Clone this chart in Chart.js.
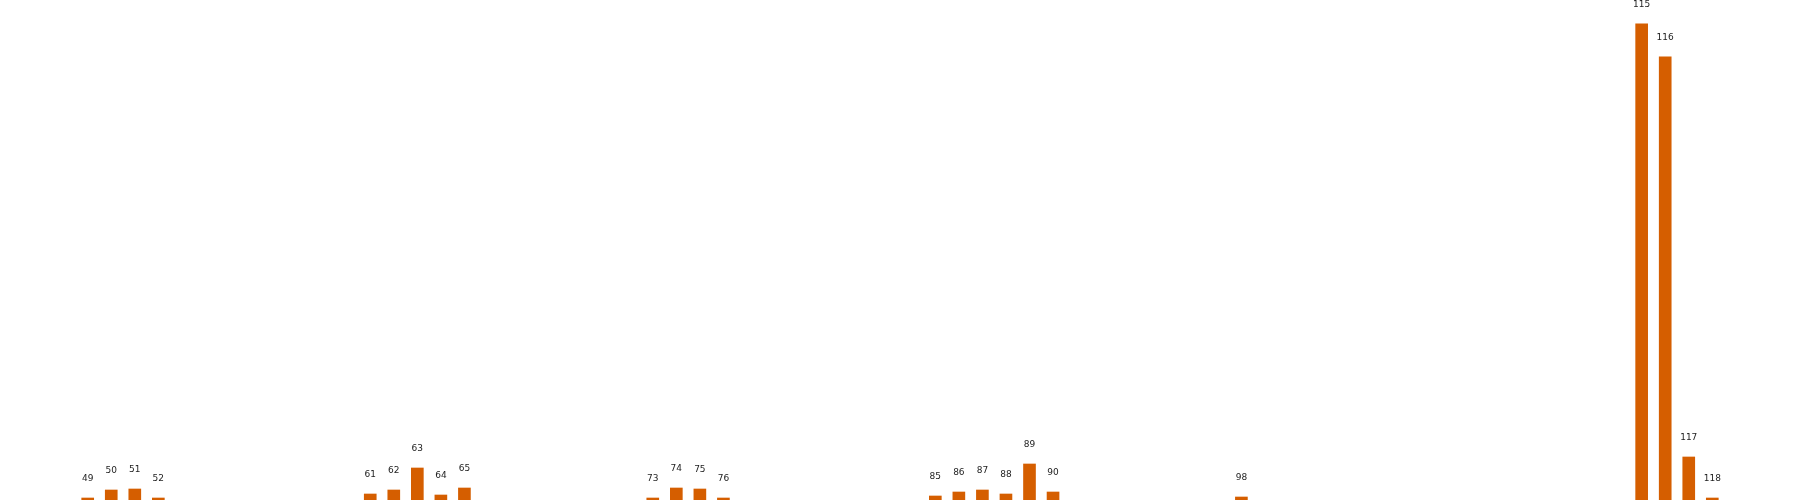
<!DOCTYPE html>
<html>
<head>
<meta charset="utf-8">
<script src="https://cdn.jsdelivr.net/npm/chart.js@4/dist/chart.umd.min.js"></script>
<style>
    html, body { margin: 0; padding: 0; background: #fff; }
    #wrap { width: 1800px; height: 500px; position: relative; }
</style>
</head>
<body>
<div id="wrap"><canvas id="chart"></canvas></div>
<script>
// bar positions (category numbers) and heights
var categories = [49, 50, 51, 52, 61, 62, 63, 64, 65, 73, 74, 75, 76, 85, 86, 87, 88, 89, 90, 98, 115, 116, 117, 118];
var values = [2, 10, 11, 2, 6, 10, 32, 5, 12, 2, 12, 11, 2, 4, 8, 10, 6, 36, 8, 3, 476, 443, 43, 2];

var barColor = '#d55e00';

var points = [];
for (var i = 0; i < categories.length; i++) {
    points.push({ x: categories[i], y: values[i] });
}

// 0.5 wide bars plus 5% margin on each side, like the source plot
var lo = Math.min.apply(null, categories) - 0.25;
var hi = Math.max.apply(null, categories) + 0.25;
var pad = (hi - lo) * 0.05;

var labelPlugin = {
    id: 'barLabels',
    afterDatasetsDraw: function (chart) {
        var ctx = chart.ctx;
        var meta = chart.getDatasetMeta(0);
        ctx.save();
        ctx.font = '9px "DejaVu Sans"';
        ctx.fillStyle = '#222';
        ctx.textAlign = 'center';
        ctx.textBaseline = 'middle';
        meta.data.forEach(function (bar, i) {
            ctx.fillText(String(categories[i]), bar.x, bar.y - 19);
        });
        ctx.restore();
    }
};

new Chart(document.getElementById('chart'), {
    type: 'bar',
    data: {
        datasets: [{
            data: points,
            backgroundColor: barColor,
            borderWidth: 0,
            barThickness: 12
        }]
    },
    options: {
        responsive: true,
        maintainAspectRatio: false,
        animation: false,
        layout: { padding: 0 },
        plugins: {
            legend: { display: false },
            tooltip: { enabled: false }
        },
        scales: {
            x: {
                type: 'linear',
                display: false,
                min: lo - pad,
                max: hi + pad,
                offset: false
            },
            y: {
                display: false,
                min: 0,
                max: Math.max.apply(null, values) * 1.05
            }
        }
    },
    plugins: [labelPlugin]
});
</script>
</body>
</html>
